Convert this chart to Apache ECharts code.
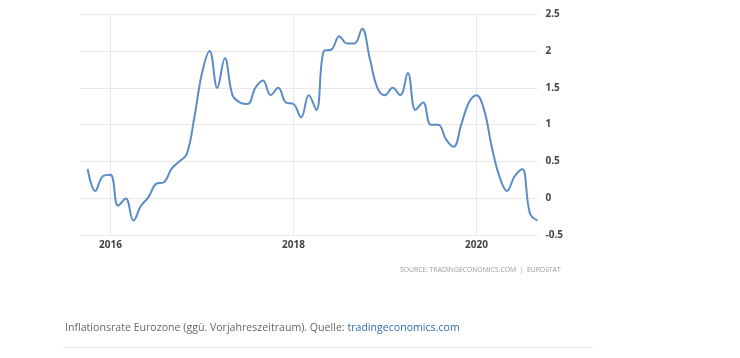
<!DOCTYPE html>
<html>
<head>
<meta charset="utf-8">
<script src="https://cdn.jsdelivr.net/npm/echarts@6/dist/echarts.min.js"></script>
<style>
html,body{margin:0;padding:0;background:#fff;}
#chart{width:740px;height:358px;}
</style>
</head>
<body>
<div id="chart"></div>
<script>
// Months from Sep 2015 to Sep 2020 (first one is an empty padding month)
const months = [
  '2015-09','2015-10','2015-11','2015-12',
  '2016-01','2016-02','2016-03','2016-04','2016-05','2016-06','2016-07','2016-08','2016-09','2016-10','2016-11','2016-12',
  '2017-01','2017-02','2017-03','2017-04','2017-05','2017-06','2017-07','2017-08','2017-09','2017-10','2017-11','2017-12',
  '2018-01','2018-02','2018-03','2018-04','2018-05','2018-06','2018-07','2018-08','2018-09','2018-10','2018-11','2018-12',
  '2019-01','2019-02','2019-03','2019-04','2019-05','2019-06','2019-07','2019-08','2019-09','2019-10','2019-11','2019-12',
  '2020-01','2020-02','2020-03','2020-04','2020-05','2020-06','2020-07','2020-08','2020-09'
];
const inflation = [
  null, 0.4, 0.1, 0.3,
  0.32, -0.1, 0.0, -0.3, -0.1, 0.02, 0.2, 0.22, 0.4, 0.5, 0.6, 1.1,
  1.7, 2.0, 1.5, 1.9, 1.4, 1.3, 1.28, 1.5, 1.6, 1.4, 1.5, 1.3,
  1.28, 1.1, 1.4, 1.2, 2.0, 2.02, 2.2, 2.1, 2.1, 2.3, 1.9, 1.5,
  1.4, 1.5, 1.4, 1.7, 1.2, 1.3, 1.0, 1.0, 0.8, 0.7, 1.0, 1.3,
  1.4, 1.2, 0.7, 0.3, 0.1, 0.3, 0.4, -0.2, -0.3
];
const yearLabels = ['2016', '2018', '2020'];
const yTicks = { min: -0.5, max: 2.5, step: 0.5 };
const sourceText = 'SOURCE: TRADINGECONOMICS.COM  |  EUROSTAT';
const captionText = 'Inflationsrate Eurozone (ggü. Vorjahreszeitraum). Quelle: ';
const captionLink = 'tradingeconomics.com';

const isYearTick = (v) => v.endsWith('-01') && yearLabels.includes(v.slice(0, 4));

const chart = echarts.init(document.getElementById('chart'), null, { renderer: 'canvas' });
chart.setOption({
  animation: false,
  backgroundColor: '#ffffff',
  grid: { left: 80, right: 202.5, top: 14, bottom: 122.7 },
  xAxis: {
    type: 'category',
    data: months,
    boundaryGap: false,
    axisLine: { show: false },
    axisTick: { show: false },
    axisLabel: {
      interval: (i, v) => isYearTick(v),
      formatter: (v) => v.slice(0, 4),
      margin: 5,
      fontFamily: 'Open Sans',
      fontSize: 10,
      fontWeight: 'bold',
      color: '#444'
    },
    splitLine: {
      show: true,
      interval: (i, v) => isYearTick(v),
      lineStyle: { color: '#e9e9e9', width: 1 }
    }
  },
  yAxis: {
    type: 'value',
    position: 'right',
    min: yTicks.min,
    max: yTicks.max,
    interval: yTicks.step,
    axisLine: { show: false },
    axisTick: { show: false },
    axisLabel: {
      margin: 8,
      align: 'left',
      fontFamily: 'Open Sans',
      fontSize: 10,
      fontWeight: 'bold',
      color: '#444'
    },
    splitLine: { lineStyle: { color: '#e9e9e9', width: 1 } }
  },
  series: [{
    type: 'line',
    data: inflation,
    smooth: 0.4,
    showSymbol: false,
    lineStyle: { color: '#5b8cc5', width: 2 },
    itemStyle: { color: '#5b8cc5' }
  }],
  graphic: [
    {
      type: 'text',
      left: 400,
      top: 267,
      style: {
        text: sourceText,
        font: '6.8px "Open Sans"',
        fill: '#999'
      }
    },
    {
      type: 'text',
      left: 65,
      top: 322,
      style: {
        text: '{a|' + captionText + '}{b|' + captionLink + '}',
        rich: {
          a: { fontFamily: 'Open Sans', fontSize: 10.6, fill: '#666', color: '#666' },
          b: { fontFamily: 'Open Sans', fontSize: 10.6, fill: '#2f6eb5', color: '#2f6eb5' }
        }
      }
    },
    {
      type: 'rect',
      shape: { x: 63, y: 347, width: 530, height: 1 },
      style: { fill: '#e6e6e6' }
    }
  ]
});
</script>
</body>
</html>
